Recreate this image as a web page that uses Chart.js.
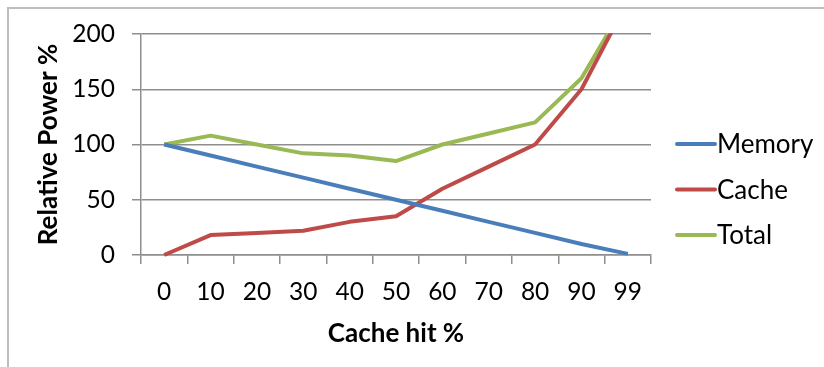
<!DOCTYPE html>
<html>
<head>
<meta charset="utf-8">
<script src="https://cdn.jsdelivr.net/npm/chart.js@4/dist/chart.umd.min.js"></script>
<style>
  html, body { margin: 0; padding: 0; background: #ffffff; }
  #wrap { position: relative; width: 824px; height: 367px; overflow: hidden; background: #fff; }
  #frame { position: absolute; left: 7px; top: 7px; width: 900px; height: 500px; border: 2px solid #bdbdbd; box-sizing: border-box; }
  #c { position: absolute; left: 0; top: 0; }
</style>
</head>
<body>
<div id="wrap">
  <div id="frame"></div>
  <canvas id="c" width="824" height="367"></canvas>
</div>
<script>
const categories = ["0", "10", "20", "30", "40", "50", "60", "70", "80", "90", "99"];
const memory = [100, 90, 80, 70, 60, 50, 40, 30, 20, 10, 1];
const cache  = [0, 18, 20, 22, 30, 35, 60, 80, 100, 150, 230];
const total  = [100, 108, 100, 92, 90, 85, 100, 110, 120, 160, 231];
const yTicks = [0, 50, 100, 150, 200];
const seriesNames = ["Memory", "Cache", "Total"];
const seriesColors = ["#4a7ebb", "#be4b48", "#98b954"];

const FONT = "Lato, 'Open Sans', sans-serif";
const FS_TICK = 24.5;
const FS_TEXT = 26;
const GRID = "#8e8e8e";

const legendPlugin = {
  id: 'sideLegend',
  afterDraw(chart) {
    const ctx = chart.ctx;
    const area = chart.chartArea;
    const x0 = area.right + 26;
    const lineLen = 38;
    const startY = 144;
    const step = 45.5;
    ctx.save();
    chart.data.datasets.forEach((ds, i) => {
      const y = startY + i * step;
      ctx.strokeStyle = ds.borderColor;
      ctx.lineWidth = 4;
      ctx.lineCap = 'round';
      ctx.beginPath();
      ctx.moveTo(x0, y);
      ctx.lineTo(x0 + lineLen, y);
      ctx.stroke();
      ctx.fillStyle = '#000';
      ctx.font = FS_TEXT + 'px ' + FONT;
      ctx.textBaseline = 'middle';
      ctx.textAlign = 'left';
      ctx.fillText(ds.label, x0 + lineLen + 2, y + 1);
    });
    ctx.restore();
  }
};

const datasets = [memory, cache, total].map((d, i) => ({
  label: seriesNames[i],
  data: d,
  borderColor: seriesColors[i],
  backgroundColor: seriesColors[i],
  borderWidth: 4,
  pointRadius: 0,
  pointHoverRadius: 0,
  tension: 0,
  fill: false,
  borderJoinStyle: 'round',
  clip: { top: 1, left: 10, right: 10, bottom: 10 }
}));

new Chart(document.getElementById('c'), {
  type: 'line',
  data: { labels: categories, datasets: datasets },
  plugins: [legendPlugin],
  options: {
    responsive: false,
    animation: false,
    events: [],
    layout: { padding: { top: 34, right: 173, bottom: 0, left: 0 } },
    plugins: {
      legend: { display: false },
      tooltip: { enabled: false }
    },
    scales: {
      x: {
        type: 'category',
        offset: true,
        afterFit(scale) { scale.height = 112; },
        grid: {
          offset: true,
          drawOnChartArea: false,
          drawTicks: true,
          tickLength: 9,
          color: GRID,
          lineWidth: 1.5
        },
        border: { display: true, color: GRID, width: 1.5 },
        ticks: {
          color: '#000',
          font: { family: FONT, size: FS_TICK },
          padding: 13,
          maxRotation: 0,
          autoSkip: false
        },
        title: {
          display: true,
          text: 'Cache hit %',
          color: '#000',
          font: { family: FONT, size: FS_TEXT, weight: 'bold' },
          padding: { top: 0, bottom: 18 }
        }
      },
      y: {
        min: 0,
        max: 200,
        afterFit(scale) { scale.width = 141; },
        afterBuildTicks(scale) { scale.ticks = yTicks.map(v => ({ value: v })); },
        grid: {
          drawTicks: true,
          tickLength: 9,
          color: GRID,
          lineWidth: 1.5
        },
        border: { display: true, color: GRID, width: 1.5 },
        ticks: {
          color: '#000',
          font: { family: FONT, size: FS_TICK },
          padding: 17
        },
        title: {
          display: true,
          text: 'Relative Power %',
          color: '#000',
          font: { family: FONT, size: FS_TEXT, weight: 'bold' },
          padding: { top: 33, bottom: 0 }
        }
      }
    }
  }
});
</script>
</body>
</html>
